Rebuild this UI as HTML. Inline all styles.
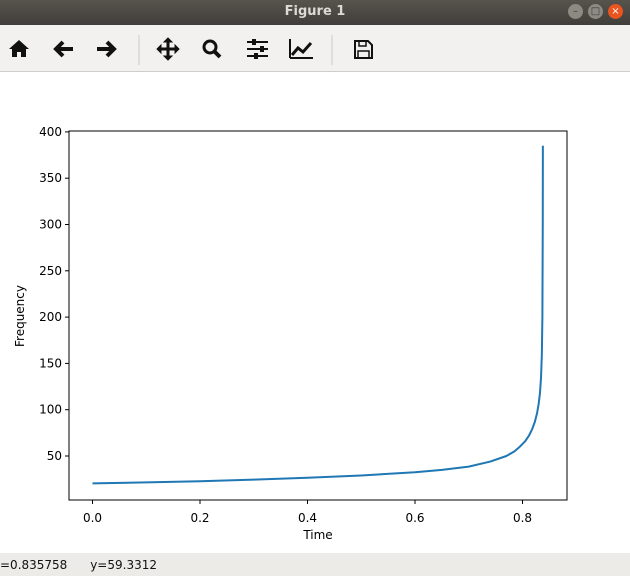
<!DOCTYPE html>
<html><head><meta charset="utf-8"><style>
body{margin:0;width:630px;height:576px;overflow:hidden;background:#fff;font-family:"DejaVu Sans","Liberation Sans",sans-serif;position:relative}
#title{position:absolute;left:0;top:0;width:630px;height:25px;background:linear-gradient(#57544e,#403e3a);color:#dcdad5;font-weight:bold;font-size:13px;text-align:center;line-height:24px}
#tb{position:absolute;left:0;top:25px;width:630px;height:46px;background:#f2f1ef;border-bottom:1px solid #cfcdc9}
#status{position:absolute;left:0;top:553px;width:630px;height:23px;background:#edebe8;font-size:12px;line-height:24px;color:#111}
.winb{position:absolute;top:4px;width:15px;height:15px;border-radius:50%;background:#8d8a84;color:#3a3834;font-size:10px;text-align:center;line-height:15px}
</style></head><body>
<div id="title">Figure 1</div>
<div class="winb" style="left:568px">–</div>
<div class="winb" style="left:588px">□</div>
<div class="winb" style="left:608px;background:#e9541f;color:#fff">×</div>
<div id="tb"></div>
<svg style="position:absolute;left:0;top:25px" width="630" height="46">
<g fill="#111" stroke="#111">
<path d="M9 24 L19 15 L29 24 L26 24 L26 32 L21 32 L21 27 L17 27 L17 32 L12 32 L12 24Z" stroke="none"/>
<path d="M73 24 H57 M63 17 L56 24 L63 31" stroke-width="4" fill="none"/>
<path d="M97 24 H113 M107 17 L114 24 L107 31" stroke-width="4" fill="none"/>
<line x1="139" y1="10" x2="139" y2="40" stroke="#ccc"/>
<path d="M168 14 V34 M158 24 H178" stroke-width="3"/>
<path d="M164 17 l4 -4 l4 4Z M164 31 l4 4 l4 -4Z M161 20 l-4 4 l4 4Z M175 20 l4 4 l-4 4Z"/>
<circle cx="210" cy="22" r="6" fill="none" stroke-width="3"/>
<path d="M214 26 L220 32" stroke-width="4"/>
<path d="M247 17 H268 M247 24 H268 M247 31 H268" stroke-width="2"/>
<rect x="252" y="14" width="4" height="6" stroke="none"/><rect x="260" y="21" width="4" height="6" stroke="none"/><rect x="254" y="28" width="4" height="6" stroke="none"/>
<path d="M290 33 H313 M290 14 V33" stroke-width="2" fill="none"/>
<path d="M292 30 L298 23 L303 27 L311 18" stroke-width="3" fill="none"/>
<line x1="332" y1="10" x2="332" y2="40" stroke="#ccc"/>
<path d="M355 16 H368 L372 20 V33 H355Z" fill="none" stroke-width="2"/>
<rect x="359" y="16" width="7" height="5" fill="none" stroke-width="1.5"/><rect x="358" y="26" width="11" height="7" fill="none" stroke-width="1.5"/>
</g></svg>
<svg id="chart" style="position:absolute;left:0;top:0" width="630" height="553"></svg>
<div id="status">=0.835758&nbsp;&nbsp;&nbsp;&nbsp;&nbsp;&nbsp;y=59.3312</div>
<script>
const times=[0,0.1,0.2,0.3,0.4,0.5,0.6,0.65,0.7,0.74,0.77,0.785,0.795,0.805,0.812,0.818,0.823,0.827,0.83,0.8325,0.8345,0.836,0.837,0.8377,0.8379];
const freqs=[20.5,21.5,22.8,24.5,26.5,29,32.5,35,38.5,44,50,55,60,66,72,79,87,96,106,118,135,160,200,300,385];
const xTicks=[0,0.2,0.4,0.6,0.8];
const xTickLabels=["0.0","0.2","0.4","0.6","0.8"];
const yTicks=[50,100,150,200,250,300,350,400];
const yTickLabels=["50","100","150","200","250","300","350","400"];
const L=69,R=567,T=131,B=500;
const xs=t=>92.5+t*537.5;
const ys=v=>456-(v-50)*0.926;
const svg=document.getElementById('chart');const NS='http://www.w3.org/2000/svg';
function mk(tag,at,txt){const e=document.createElementNS(NS,tag);for(const k in at)e.setAttribute(k,at[k]);if(txt!==undefined)e.textContent=txt;svg.appendChild(e);return e;}
let d=times.map((t,i)=>(i?'L':'M')+xs(t).toFixed(2)+' '+ys(freqs[i]).toFixed(2)).join(' ');
const line=mk('path',{d:d,fill:'none',stroke:'#1f77b4','stroke-width':2,'stroke-linejoin':'round'});


const fr=mk('rect',{x:L,y:T,width:R-L,height:B-T,fill:'none',stroke:'#000','stroke-width':1});


xTicks.forEach((t,i)=>{const x=xs(t);mk('line',{x1:x,y1:B,x2:x,y2:B+4,stroke:'#000'});
const tx=mk('text',{x:x,y:B+22,'text-anchor':'middle','font-size':12,'font-family':'DejaVu Sans, sans-serif'},xTickLabels[i]);

});
yTicks.forEach((v,i)=>{const y=ys(v);mk('line',{x1:L-4,y1:y,x2:L,y2:y,stroke:'#000'});
const tx=mk('text',{x:L-7,y:y+4,'text-anchor':'end','font-size':12,'font-family':'DejaVu Sans, sans-serif'},yTickLabels[i]);

});
const xl=mk('text',{x:318,y:539,'text-anchor':'middle','font-size':12,'font-family':'DejaVu Sans, sans-serif'},'Time');


const yl=mk('text',{x:0,y:0,'text-anchor':'middle','font-size':12,'font-family':'DejaVu Sans, sans-serif',transform:'translate(24,316) rotate(-90)'},'Frequency');


</script>
</body></html>
